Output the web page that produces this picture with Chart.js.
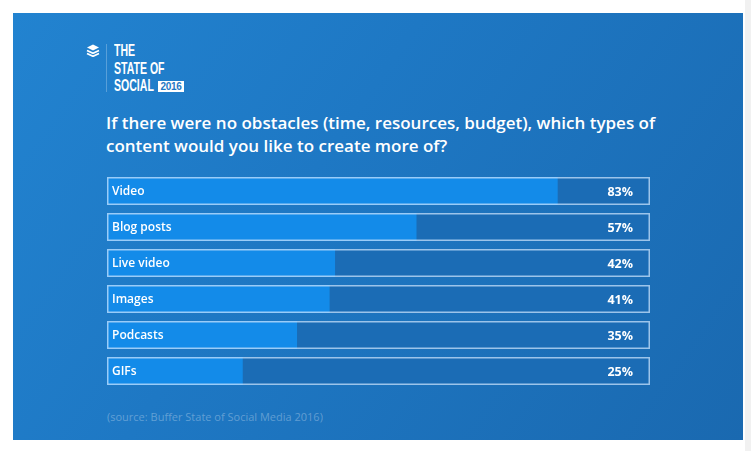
<!DOCTYPE html>
<html>
<head>
<meta charset="utf-8">
<script src="https://cdn.jsdelivr.net/npm/chart.js@4/dist/chart.umd.min.js"></script>
<style>
  html, body { margin: 0; padding: 0; background: #fff; }
  body { width: 751px; height: 451px; position: relative; overflow: hidden; font-family: "Open Sans", sans-serif; }
  #edge { position: absolute; left: 745px; top: 0; width: 6px; height: 451px; background: #f1f1f1; }
  #panel {
    position: absolute; left: 13px; top: 13px; width: 730px; height: 427px;
    background: linear-gradient(125deg, #2283d0 0%, #1e78c4 40%, #1a69b0 100%);
  }
  #logo-icon { position: absolute; left: 86px; top: 44px; }
  #logo-rule { position: absolute; left: 106px; top: 44px; width: 1px; height: 48px; background: rgba(255,255,255,0.25); }
  .logo-line {
    position: absolute; left: 114px; color: #fff; white-space: nowrap;
    font-family: "Liberation Sans", Arial, sans-serif; font-weight: bold; font-size: 17px; line-height: 16px;
    transform: scaleX(0.62); transform-origin: 0 0;
  }
  #badge {
    position: absolute; left: 158px; top: 81px; width: 26px; height: 11px; background: #fff;
    color: #1f78c4; font-family: "Liberation Sans", Arial, sans-serif; font-weight: bold;
    font-size: 10px; line-height: 11px; text-align: center; letter-spacing: -0.3px;
  }
  #title {
    position: absolute; left: 106px; top: 111px; width: 570px; color: #fff;
    font-size: 17px; font-weight: 600; line-height: 23px;
  }
  #chart-box { position: absolute; left: 107px; top: 173px; width: 543px; height: 216px; }
  #source { position: absolute; left: 107px; top: 409px; color: rgba(255,255,255,0.3); font-size: 11px; }
</style>
</head>
<body>
<div id="edge"></div>
<div id="panel"></div>
<svg id="logo-icon" width="14" height="13" viewBox="0 0 14 13">
  <path d="M7 0.5 L13 3.5 L7 6.5 L1 3.5 Z" fill="#fff"/>
  <path d="M1 6.5 L7 9.3 L13 6.5" stroke="#fff" stroke-width="1.7" fill="none"/>
  <path d="M1 9.5 L7 12.3 L13 9.5" stroke="#fff" stroke-width="1.7" fill="none"/>
</svg>
<div id="logo-rule"></div>
<div class="logo-line" style="top:43px">THE</div>
<div class="logo-line" style="top:61px">STATE OF</div>
<div class="logo-line" style="top:78px">SOCIAL</div>
<div id="badge">2016</div>
<div id="title">If there were no obstacles (time, resources, budget), which types of content would you like to create more of?</div>
<div id="chart-box"><canvas id="chart"></canvas></div>
<div id="source">(source: Buffer State of Social Media 2016)</div>

<script>
// ── Data ──────────────────────────────────────────────────────────────────────
const categories  = ["Video", "Blog posts", "Live video", "Images", "Podcasts", "GIFs"];
const shares      = [83, 57, 42, 41, 35, 25];
const shareLabels = ["83%", "57%", "42%", "41%", "35%", "25%"];
const trackValues = [100, 100, 100, 100, 100, 100];

const BAR_COMMON = {
  grouped:            false,
  barPercentage:      0.78,
  categoryPercentage: 1,
  borderSkipped:      false,
};

// Category name on the left and percentage on the right, inside each bar
const barLabels = {
  id: "barLabels",
  afterDatasetsDraw(chart) {
    const { ctx, chartArea, scales } = chart;
    ctx.save();
    ctx.fillStyle = "#ffffff";
    ctx.textBaseline = "alphabetic";
    categories.forEach((name, i) => {
      const y = scales.y.getPixelForValue(i);
      ctx.font = "600 12px 'Open Sans'";
      ctx.textAlign = "left";
      ctx.fillText(name, chartArea.left + 5, y + 4);
      ctx.font = "bold 12.5px 'Open Sans'";
      ctx.textAlign = "right";
      ctx.fillText(shareLabels[i], chartArea.right - 17, y + 5);
    });
    ctx.restore();
  },
};

new Chart(document.getElementById("chart"), {
  type: "bar",
  data: {
    labels: categories,
    datasets: [
      {
        ...BAR_COMMON,
        label:           "outline",
        data:            trackValues,
        backgroundColor: "rgba(0,0,0,0)",
        borderColor:     "rgba(200,226,252,0.75)",
        borderWidth:     1.5,
        order:           1,
      },
      {
        ...BAR_COMMON,
        label:           "share",
        data:            shares,
        backgroundColor: "#138be9",
        order:           2,
      },
      {
        ...BAR_COMMON,
        label:           "track",
        data:            trackValues,
        backgroundColor: "#1b6cb5",
        order:           3,
      },
    ],
  },
  options: {
    indexAxis: "y",
    responsive: true,
    maintainAspectRatio: false,
    animation: false,
    layout: { padding: 0 },
    plugins: {
      legend:  { display: false },
      tooltip: { enabled: false },
    },
    scales: {
      x: { display: false, min: 0, max: 100 },
      y: { display: false },
    },
  },
  plugins: [barLabels],
});
</script>
</body>
</html>
